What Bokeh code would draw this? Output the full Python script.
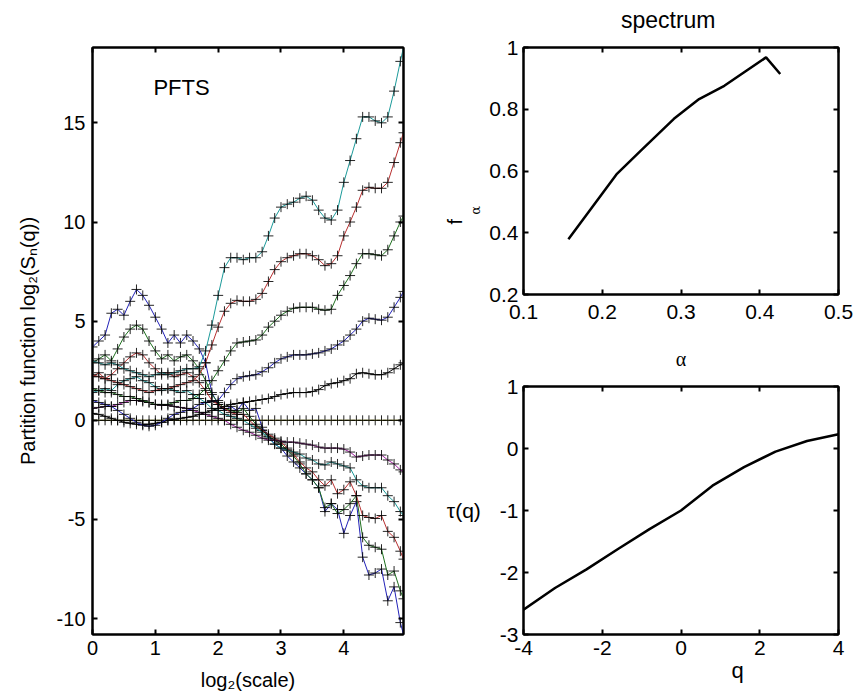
import math
from bokeh.plotting import figure
from bokeh.models import Range1d, FixedTicker, LinearAxis, Label, Title, CustomJSTickFormatter
from bokeh.layouts import row, column
from bokeh.embed import file_html
from bokeh.resources import INLINE

FONT = "Liberation Sans"
SERIF = "Liberation Serif"

# ---------------- data ----------------
log2_scale = [0.0, 0.1, 0.2, 0.3, 0.4, 0.5, 0.6, 0.7, 0.8, 0.9,
              1.0, 1.1, 1.2, 1.3, 1.4, 1.5, 1.6, 1.7, 1.8, 1.9,
              2.0, 2.1, 2.2, 2.3, 2.4, 2.5, 2.6, 2.7, 2.8, 2.9,
              3.0, 3.1, 3.2, 3.3, 3.4, 3.5, 3.6, 3.7, 3.8, 3.9,
              4.0, 4.1, 4.2, 4.3, 4.4, 4.5, 4.6, 4.7, 4.8, 4.9, 4.95]

q_values = [-4, -3.2, -2.4, -1.6, -0.8, 0, 0.8, 1.6, 2.4, 3.2, 4]

pf_q_m4_0 = [3.7, 4.0, 4.3, 5.4, 5.6, 5.3, 6.0, 6.6, 6.3, 5.8,
             5.2, 4.6, 3.9, 4.3, 3.9, 4.3, 4.0, 3.6, 2.9, 1.4,
             0.8, 0.5, 0.7, 0.5, 0.9, 0.5, 0.6, -0.35, -0.8, -1.2,
             -1.4, -1.8, -2.1, -2.4, -2.7, -3.0, -3.4, -4.6, -4.2, -4.5,
             -5.7, -4.8, -4.1, -6.9, -7.8, -7.7, -7.5, -9.1, -8.4, -10.2, -10.8]
pf_q_m3_2 = [2.9, 3.1, 3.3, 3.0, 3.6, 4.2, 4.6, 4.8, 4.6, 4.0,
             3.5, 3.1, 3.3, 3.0, 3.2, 3.3, 3.0, 2.6, 2.0, 1.3,
             0.9, 0.6, 0.5, 0.4, 0.6, 0.2, -0.2, -0.5, -0.8, -1.0,
             -1.2, -1.5, -1.8, -2.2, -2.7, -3.0, -3.4, -4.4, -4.2, -4.7,
             -4.5, -4.2, -3.8, -5.9, -6.3, -6.4, -6.5, -7.8, -7.6, -8.6, -9.0]
pf_q_m2_4 = [2.2, 2.4, 2.1, 2.3, 2.6, 2.9, 3.2, 3.4, 3.3, 2.9,
             2.6, 2.3, 2.4, 2.2, 2.3, 2.4, 2.2, 1.9, 1.5, 1.0,
             0.8, 0.6, 0.4, 0.3, 0.3, 0.0, -0.3, -0.5, -0.7, -0.9,
             -1.1, -1.4, -1.7, -2.1, -2.4, -2.6, -3.0, -3.3, -3.0, -3.7,
             -3.5, -3.1, -3.8, -4.8, -4.9, -4.95, -4.8, -5.6, -5.9, -6.6, -7.0]
pf_q_m1_6 = [1.4, 1.5, 1.6, 1.5, 1.8, 2.0, 2.1, 2.2, 2.0, 1.9,
             1.7, 1.5, 1.6, 1.5, 1.4, 1.5, 1.3, 1.1, 0.9, 0.6,
             0.5, 0.3, 0.2, 0.1, 0.0, -0.2, -0.4, -0.6, -0.9, -1.2,
             -1.4, -1.5, -1.6, -1.7, -1.9, -2.0, -2.2, -2.25, -2.1, -2.2,
             -2.3, -2.4, -3.0, -3.3, -3.4, -3.4, -3.4, -3.8, -4.1, -4.6, -4.8]
pf_q_m0_8 = [0.6, 0.65, 0.7, 0.7, 0.8, 0.9, 1.0, 1.0, 0.95, 0.9,
             0.8, 0.75, 0.75, 0.7, 0.65, 0.6, 0.5, 0.4, 0.3, 0.2,
             0.1, 0.0, -0.2, -0.35, -0.5, -0.6, -0.75, -0.9, -1.0, -1.0,
             -1.05, -1.1, -1.1, -1.15, -1.2, -1.25, -1.35, -1.4, -1.4, -1.4,
             -1.45, -1.6, -1.85, -1.8, -1.75, -1.75, -1.75, -2.0, -2.2, -2.5, -2.6]
pf_q_0_0 = [0.0, 0.0, 0.0, 0.0, 0.0, 0.0, 0.0, 0.0, 0.0, 0.0,
            0.0, 0.0, 0.0, 0.0, 0.0, 0.0, 0.0, 0.0, 0.0, 0.0,
            0.0, 0.0, 0.0, 0.0, 0.0, 0.0, 0.0, 0.0, 0.0, 0.0,
            0.0, 0.0, 0.0, 0.0, 0.0, 0.0, 0.0, 0.0, 0.0, 0.0,
            0.0, 0.0, 0.0, 0.0, 0.0, 0.0, 0.0, 0.0, 0.0, 0.0, 0.0]
pf_q_p0_8 = [0.35, 0.3, 0.2, 0.1, 0.0, -0.1, -0.15, -0.2, -0.2, -0.2,
             -0.15, -0.1, 0.0, 0.05, 0.1, 0.15, 0.2, 0.3, 0.4, 0.5,
             0.6, 0.7, 0.8, 0.85, 0.9, 0.95, 1.0, 1.05, 1.1, 1.2,
             1.3, 1.35, 1.4, 1.4, 1.4, 1.45, 1.55, 1.75, 1.85, 1.9,
             2.0, 2.1, 2.35, 2.4, 2.35, 2.3, 2.3, 2.4, 2.6, 2.8, 2.9]
pf_q_p1_6 = [1.0, 0.9, 0.8, 0.7, 0.5, 0.3, 0.1, -0.1, -0.25, -0.3,
             -0.25, -0.1, 0.1, 0.3, 0.4, 0.5, 0.6, 0.8, 0.9, 0.95,
             1.0, 1.4, 1.8, 2.1, 2.2, 2.25, 2.3, 2.45, 2.65, 2.9,
             3.1, 3.2, 3.3, 3.3, 3.3, 3.35, 3.4, 3.5, 3.6, 3.8,
             4.0, 4.3, 4.6, 5.0, 5.15, 5.1, 5.05, 5.2, 5.7, 6.2, 6.5]
pf_q_p2_4 = [1.6, 1.5, 1.4, 1.4, 1.3, 1.2, 1.2, 1.1, 1.0, 0.9,
             0.8, 0.8, 0.8, 0.9, 1.0, 1.0, 1.1, 1.3, 1.6, 2.0,
             2.5, 3.0, 3.5, 3.9, 3.95, 4.0, 4.05, 4.3, 4.7, 5.0,
             5.3, 5.5, 5.65, 5.7, 5.7, 5.7, 5.6, 5.55, 5.6, 6.3,
             6.8, 7.3, 7.9, 8.4, 8.4, 8.35, 8.3, 8.6, 9.3, 10.0, 10.3]
pf_q_p3_2 = [2.3, 2.2, 2.1, 2.0, 1.9, 1.8, 1.7, 1.6, 1.5, 1.4,
             1.5, 1.6, 1.6, 1.7, 1.8, 1.9, 2.0, 2.3, 2.9, 3.8,
             4.7, 5.5, 5.9, 6.05, 6.0, 6.0, 6.1, 6.4, 7.0, 7.6,
             8.0, 8.2, 8.3, 8.4, 8.4, 8.3, 8.1, 7.8, 7.9, 8.3,
             9.3, 10.0, 10.75, 11.6, 11.75, 11.7, 11.7, 12.0, 13.0, 14.0, 14.5]
pf_q_p4_0 = [3.0, 2.9, 2.8, 2.9, 2.8, 2.6, 2.5, 2.4, 2.3, 2.2,
             2.3, 2.4, 2.3, 2.4, 2.5, 2.6, 2.6, 2.7, 3.5, 4.8,
             6.3, 7.7, 8.2, 8.2, 8.1, 8.2, 8.2, 8.5, 9.3, 10.2,
             10.75, 10.9, 11.0, 11.2, 11.3, 11.1, 10.6, 10.2, 10.1, 10.6,
             12.0, 13.1, 14.2, 15.3, 15.3, 15.1, 15.0, 15.3, 16.6, 18.1, 18.8]

pf_series = [pf_q_m4_0, pf_q_m3_2, pf_q_m2_4, pf_q_m1_6, pf_q_m0_8, pf_q_0_0,
             pf_q_p0_8, pf_q_p1_6, pf_q_p2_4, pf_q_p3_2, pf_q_p4_0]

# MATLAB default colour order (b, g, r, c, m, y, k) cycling over the q values
line_colors = ["#2222b8", "#1f701f", "#b83030", "#1c9a9a", "#a020a0", "#b0b000",
               "#000000", "#2222b8", "#1f701f", "#b83030", "#1c9a9a"]

alpha_vals = [0.157, 0.218, 0.249, 0.291, 0.323, 0.355, 0.408, 0.426]
f_alpha_vals = [0.379, 0.589, 0.666, 0.769, 0.833, 0.876, 0.968, 0.914]

tau_q = [-4, -3.2, -2.4, -1.6, -0.8, 0, 0.8, 1.6, 2.4, 3.2, 4]
tau_vals = [-2.6, -2.25, -1.95, -1.62, -1.3, -1.0, -0.6, -0.3, -0.05, 0.12, 0.23]

left_xticks = [0, 1, 2, 3, 4]
left_yticks = [-10, -5, 0, 5, 10, 15]
spec_xticks = [0.1, 0.2, 0.3, 0.4, 0.5]
spec_yticks = [0.2, 0.4, 0.6, 0.8, 1.0]
tau_xticks = [-4, -2, 0, 2, 4]
tau_yticks = [-3, -2, -1, 0, 1]

TICK_JS = "return String(Math.round(tick*100)/100);"


# ---------------- helpers ----------------
def style_axis(ax, ticks, label_size="20px", standoff=6):
    ax.ticker = FixedTicker(ticks=ticks)
    ax.formatter = CustomJSTickFormatter(code=TICK_JS)
    ax.axis_line_color = "black"
    ax.axis_line_width = 2
    ax.major_tick_in = 5
    ax.major_tick_out = 0
    ax.major_tick_line_width = 2
    ax.major_tick_line_color = "black"
    ax.minor_tick_in = 0
    ax.minor_tick_out = 0
    ax.major_label_text_font = FONT
    ax.major_label_text_font_size = label_size
    ax.major_label_text_color = "black"
    ax.major_label_standoff = standoff
    ax.axis_label_text_font = FONT
    ax.axis_label_text_font_style = "normal"
    ax.axis_label_text_font_size = "20px"
    ax.axis_label_text_color = "black"


def mirror_axes(p, xt, yt):
    top = LinearAxis()
    style_axis(top, xt, label_size="1px", standoff=0)
    top.major_label_text_color = None
    p.add_layout(top, "above")
    right = LinearAxis()
    style_axis(right, yt, label_size="1px", standoff=0)
    right.major_label_text_color = None
    p.add_layout(right, "right")
    return top, right


def base_fig(width, height, xr, yr, ml, mr, mt, mb):
    p = figure(width=width, height=height, x_range=Range1d(*xr), y_range=Range1d(*yr),
               output_backend="svg", toolbar_location=None,
               min_border_left=ml, min_border_right=mr, min_border_top=mt, min_border_bottom=mb)
    p.xgrid.visible = False
    p.ygrid.visible = False
    p.outline_line_color = "black"
    p.outline_line_width = 2
    p.outline_line_alpha = 1.0
    p.background_fill_color = "white"
    p.border_fill_color = "white"
    return p


# ---------------- left: partition function ----------------
p1 = base_fig(420, 697, (0, 4.95), (-10.8, 18.8), 92, 17, 47, 63)
style_axis(p1.below[0], left_xticks, standoff=6)
style_axis(p1.left[0], left_yticks, standoff=7)
p1.below[0].axis_label = "log\u2082(scale)"
p1.below[0].axis_label_standoff = 11
p1.left[0].axis_label = "Partition function log\u2082(S\u2099(q))"
p1.left[0].axis_label_standoff = 15
mirror_axes(p1, left_xticks, left_yticks)

for ys, col in zip(pf_series, line_colors):
    p1.line(log2_scale, ys, line_color=col, line_width=1)
    p1.scatter(log2_scale, ys, marker="cross", size=10, line_color="black",
               line_width=1, line_alpha=0.85)

p1.add_layout(Label(x=0.97, y=16.8, text="PFTS", text_font=FONT, text_font_size="22px",
                    text_align="left", text_baseline="middle", text_color="black"))

# ---------------- right top: spectrum ----------------
p2 = base_fig(435, 372, (0.1, 0.5), (0.2, 1.0), 103, 17, 47, 78)
style_axis(p2.below[0], spec_xticks, label_size="21px", standoff=10)
style_axis(p2.left[0], spec_yticks, label_size="21px", standoff=5)
top2, right2 = mirror_axes(p2, spec_xticks, spec_yticks)
p2.line(alpha_vals, f_alpha_vals, line_color="black", line_width=2.5)

# title of the spectrum panel
top2.axis_label = "spectrum" + "\u00a0" * 4
top2.axis_label_text_font_size = "23px"
top2.axis_label_standoff = 15

# x label (alpha) of the spectrum panel
p2.below[0].axis_label = "\u03b1"
p2.below[0].axis_label_text_font = SERIF
p2.below[0].axis_label_text_font_size = "20px"
p2.below[0].axis_label_standoff = 26
# y label f_alpha: the subscript alpha is the axis label, "f" a title beside it
p2.left[0].axis_label = "\u03b1" + "\u00a0" * 19
p2.left[0].axis_label_text_font = "DejaVu Serif"
p2.left[0].axis_label_text_font_size = "13px"
p2.left[0].axis_label_standoff = 3
p2.add_layout(Title(text="f", text_font=FONT, text_font_size="20px", text_font_style="normal",
                    align="left", offset=70, standoff=0, text_color="black"), "left")

# ---------------- right bottom: tau(q) ----------------
p3 = base_fig(435, 325, (-4, 4), (-3, 1), 103, 17, 14, 63)
style_axis(p3.below[0], tau_xticks, label_size="21px", standoff=6)
style_axis(p3.left[0], tau_yticks, label_size="21px", standoff=5)
mirror_axes(p3, tau_xticks, tau_yticks)
p3.line(tau_q, tau_vals, line_color="black", line_width=2.5)

p3.left[0].axis_label = "\u03c4(q)"
p3.left[0].axis_label_text_font_size = "21px"
p3.left[0].axis_label_standoff = 16
if "axis_label_orientation" in p3.left[0].properties():
    p3.left[0].axis_label_orientation = "horizontal"

p3.add_layout(Title(text="q", text_font=FONT, text_font_size="22px", text_font_style="normal",
                    align="left", offset=208, standoff=0, vertical_align="top",
                    text_color="black"), "below")

layout = row(p1, column(p2, p3))

open("out.html", "w").write(file_html(layout, INLINE))
